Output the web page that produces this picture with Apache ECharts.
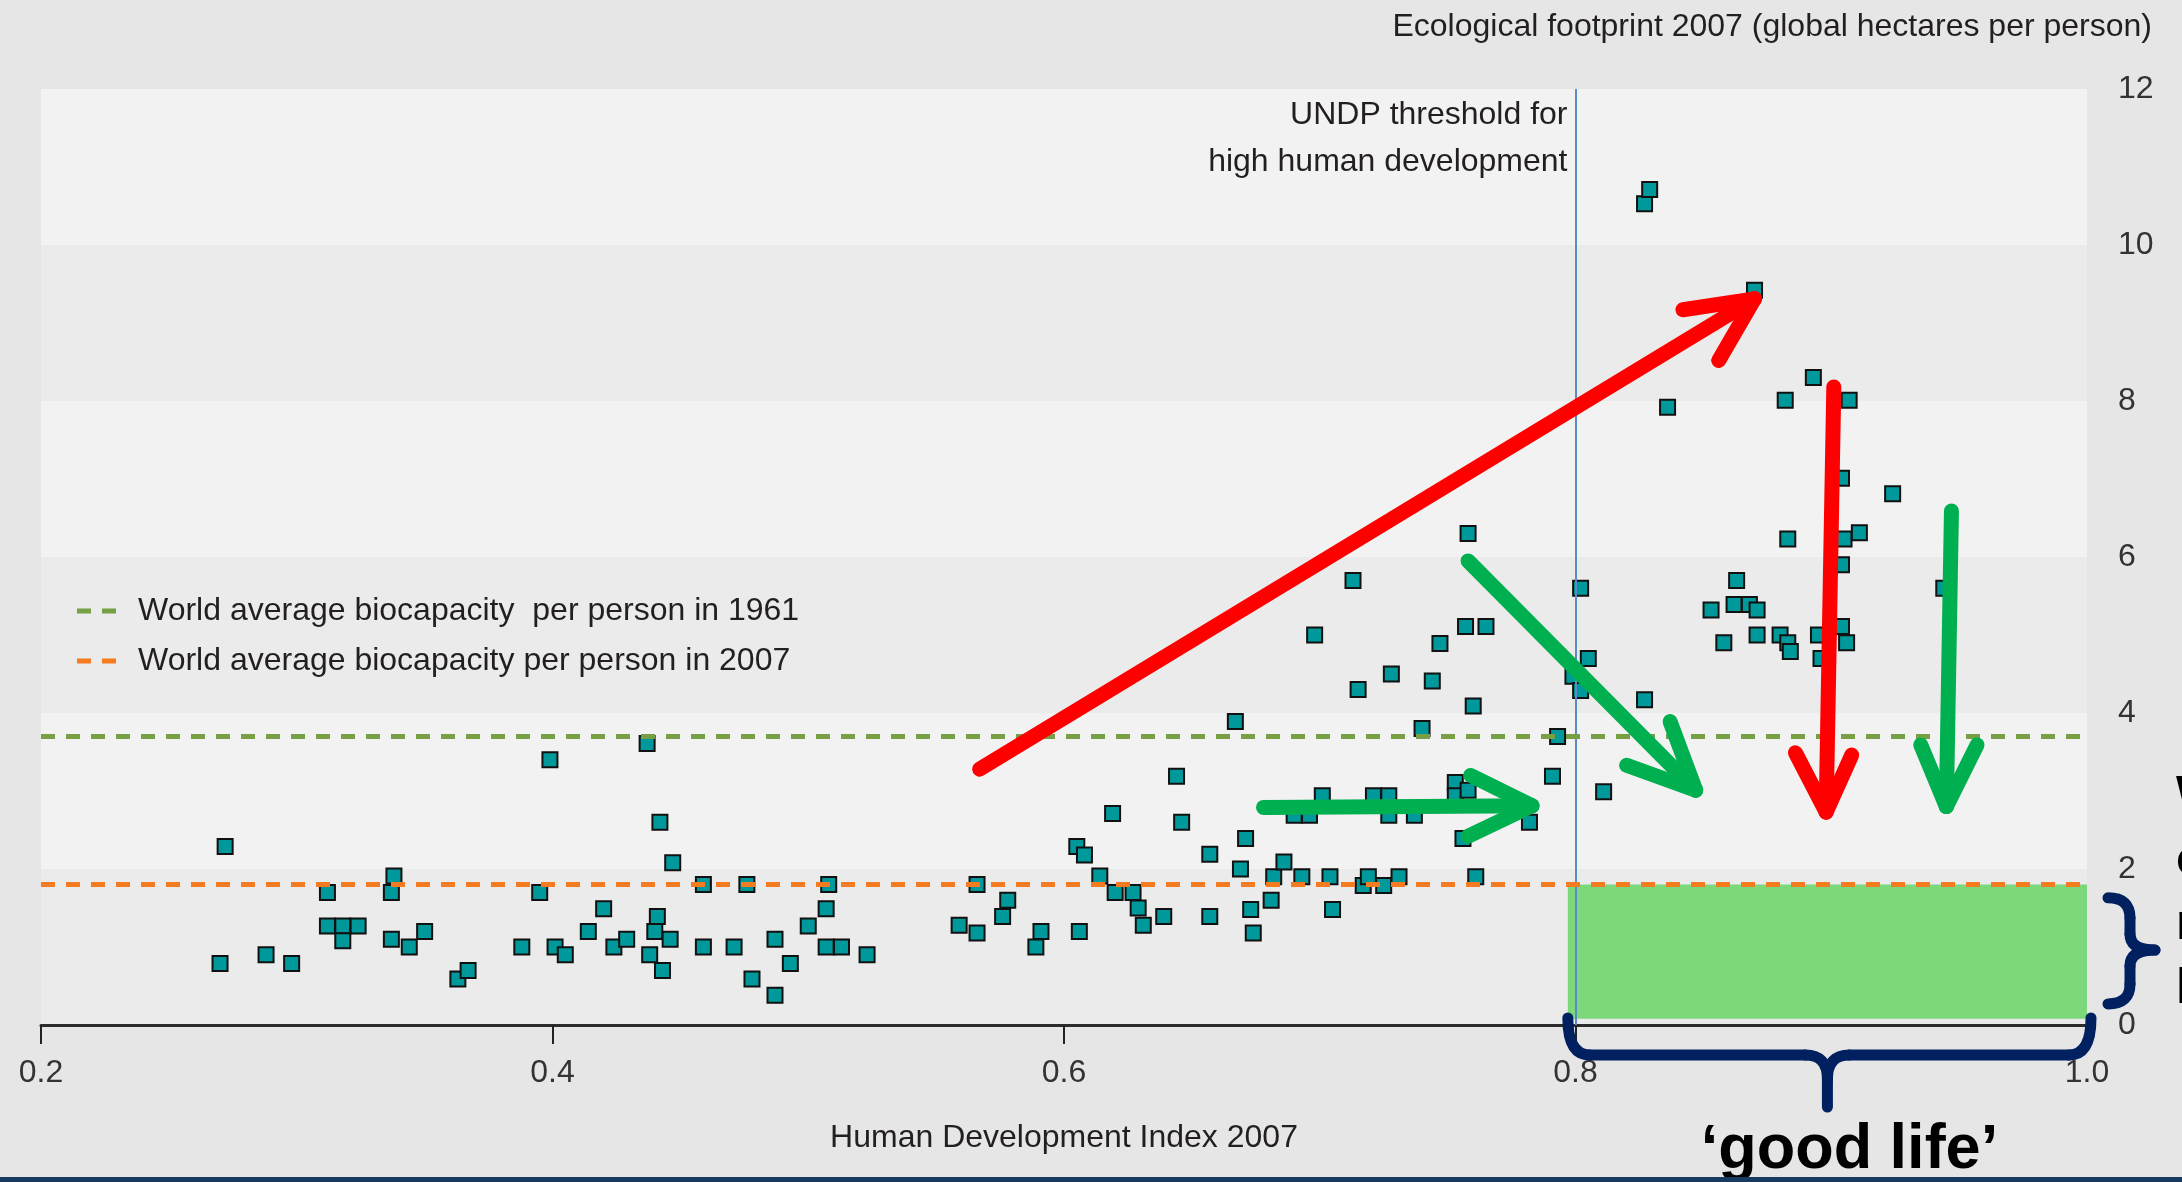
<!DOCTYPE html>
<html>
<head>
<meta charset="utf-8">
<title>HDI vs Ecological footprint 2007</title>
<script src="https://cdn.jsdelivr.net/npm/echarts@6/dist/echarts.min.js"></script>
<style>
  html, body { margin: 0; padding: 0; background: #e6e6e6; }
  #main { width: 2182px; height: 1182px; }
</style>
</head>
<body>
<div id="main"></div>
<script>
const FONT = "'Liberation Sans', Arial, sans-serif";
const TEXT_COLOR = "#231f20";
const NAVY = "#002060";

const xAxisName = "Human Development Index 2007";
const yAxisName = "Ecological footprint 2007 (global hectares per person)";
const legend1961 = "World average biocapacity  per person in 1961";
const legend2007 = "World average biocapacity per person in 2007";
const thresholdText = ["UNDP threshold for", "high human development"];
const goodLifeText = "\u2018good life\u2019";
const sideText = ["Within", "our", "means", "limits"];

const bio1961 = 3.7; // gha per person
const bio2007 = 1.8;
const hdiThreshold = 0.8;
const goodLifeBox = [[0.797, 0.08], [1.0, 1.8]];

// one value per country
const hdi = [
  0.272, 0.270, 0.288, 0.298, 0.312, 0.312, 0.318, 0.324, 0.318, 0.338,
  0.337, 0.337, 0.344, 0.350, 0.363, 0.367, 0.388, 0.395, 0.399, 0.401,
  0.405, 0.414, 0.420, 0.424, 0.429, 0.437, 0.442, 0.447, 0.441, 0.440,
  0.438, 0.446, 0.443, 0.459, 0.459, 0.471, 0.476, 0.478, 0.487, 0.487,
  0.493, 0.500, 0.507, 0.508, 0.507, 0.513, 0.523,
  0.559, 0.566, 0.566, 0.576, 0.578, 0.589, 0.591, 0.605, 0.606, 0.608,
  0.614, 0.619, 0.620, 0.627, 0.629, 0.631, 0.639, 0.644, 0.646, 0.657,
  0.657, 0.667, 0.669, 0.671, 0.673, 0.674, 0.681, 0.682, 0.686, 0.690,
  0.693, 0.696, 0.698, 0.701, 0.704, 0.705, 0.713, 0.715, 0.717, 0.719,
  0.721, 0.725, 0.727, 0.727, 0.728, 0.731, 0.737, 0.740, 0.744, 0.747,
  0.753, 0.753, 0.756, 0.757, 0.758, 0.758, 0.760, 0.761, 0.765, 0.782,
  0.791, 0.793,
  0.799, 0.802, 0.802, 0.805, 0.811, 0.827, 0.827, 0.829, 0.836, 0.853,
  0.858, 0.862, 0.863, 0.868, 0.870, 0.871, 0.871, 0.880, 0.882, 0.883,
  0.883, 0.884, 0.893, 0.895, 0.896, 0.904, 0.904, 0.904, 0.905, 0.906,
  0.907, 0.911, 0.924, 0.944
];
const footprint = [
  2.29, 0.79, 0.90, 0.79, 1.70, 1.27, 1.27, 1.27, 1.08, 1.91,
  1.70, 1.10, 1.00, 1.20, 0.59, 0.70, 1.00, 1.70, 3.40, 1.00,
  0.90, 1.20, 1.49, 1.00, 1.10, 3.61, 2.60, 2.08, 1.39, 1.20,
  0.90, 1.10, 0.70, 1.80, 1.00, 1.00, 1.80, 0.59, 1.10, 0.38,
  0.79, 1.27, 1.49, 1.80, 1.00, 1.00, 0.90,
  1.28, 1.80, 1.18, 1.39, 1.60, 1.00, 1.20, 2.29, 1.20, 2.18,
  1.91, 2.71, 1.70, 1.70, 1.50, 1.28, 1.39, 3.19, 2.60, 2.19,
  1.39, 3.89, 2.00, 2.39, 1.48, 1.18, 1.60, 1.90, 2.09, 2.69,
  1.90, 2.69, 5.00, 2.94, 1.90, 1.48, 5.70, 4.30, 1.79, 1.90,
  2.94, 1.79, 2.94, 2.69, 4.50, 1.90, 2.69, 3.80, 4.41, 4.89,
  3.11, 2.94, 2.39, 5.11, 6.30, 3.01, 4.09, 1.90, 5.11, 2.60,
  3.19, 3.70,
  4.47, 5.60, 4.29, 4.70, 2.99, 10.53, 4.17, 10.71, 7.92, 5.32,
  4.90, 5.39, 5.70, 5.39, 9.42, 5.32, 5.00, 5.00, 8.01, 6.23,
  4.90, 4.79, 8.30, 5.00, 4.70, 7.01, 5.90, 5.11, 6.23, 4.90,
  8.01, 6.31, 6.81, 5.60
];

// hand-drawn arrows on top of the chart, [from, to] in axis units
const redArrows = [
  [[0.567, 3.28], [0.870, 9.31]],
  [[0.870, 9.31], [0.842, 9.17]],
  [[0.870, 9.31], [0.856, 8.52]],
  [[0.901, 8.18], [0.898, 2.73]],
  [[0.898, 2.73], [0.886, 3.49]],
  [[0.898, 2.73], [0.908, 3.46]]
];
const greenArrows = [
  [[0.758, 5.95], [0.847, 3.01]],
  [[0.847, 3.01], [0.820, 3.33]],
  [[0.847, 3.01], [0.837, 3.89]],
  [[0.678, 2.79], [0.783, 2.81]],
  [[0.783, 2.81], [0.759, 3.20]],
  [[0.783, 2.81], [0.758, 2.42]],
  [[0.947, 6.59], [0.945, 2.80]],
  [[0.945, 2.80], [0.935, 3.59]],
  [[0.945, 2.80], [0.957, 3.59]]
];

const points = hdi.map((h, i) => [h, footprint[i]]);

// legend icon: two short dashes
const DASH_ICON = "path://M0,0 H14 V5 H0 Z M25,0 H39 V5 H25 Z";

function arrowSeries(segments, color) {
  return {
    type: "line",
    data: [],
    z: 5,
    silent: true,
    markLine: {
      silent: true,
      symbol: ["none", "none"],
      animation: false,
      label: { show: false },
      emphasis: { disabled: true },
      lineStyle: { color: color, width: 15, type: "solid", cap: "round", opacity: 1 },
      data: segments.map(s => [{ coord: s[0] }, { coord: s[1] }])
    }
  };
}

function biocapSeries(name, value, color) {
  return {
    name: name,
    type: "line",
    data: [],
    symbol: "none",
    z: 2,
    itemStyle: { color: color },
    lineStyle: { color: color, width: 5, type: [14, 11] },
    markLine: {
      silent: true,
      symbol: ["none", "none"],
      animation: false,
      label: { show: false },
      emphasis: { disabled: true },
      lineStyle: { color: color, width: 5, type: [14, 11], opacity: 1 },
      data: [{ yAxis: value }]
    }
  };
}

const chart = echarts.init(document.getElementById("main"));

chart.setOption({
  backgroundColor: "#e6e6e6",
  animation: false,
  title: {
    text: yAxisName,
    right: 25,
    top: 6,
    textStyle: { fontFamily: FONT, fontSize: 32, fontWeight: "normal", color: TEXT_COLOR }
  },
  legend: {
    data: [
      { name: legend1961, icon: DASH_ICON },
      { name: legend2007, icon: DASH_ICON }
    ],
    orient: "vertical",
    left: 72,
    top: 590,
    itemWidth: 39,
    itemHeight: 5,
    itemGap: 18,
    selectedMode: false,
    textStyle: { fontFamily: FONT, fontSize: 32, color: TEXT_COLOR, padding: [0, 0, 0, 17] }
  },
  grid: { left: 41, right: 95, top: 89, bottom: 157 },
  xAxis: {
    type: "value",
    min: 0.2,
    max: 1.0,
    interval: 0.2,
    name: xAxisName,
    nameLocation: "middle",
    nameGap: 97,
    nameTextStyle: { fontFamily: FONT, fontSize: 32, color: TEXT_COLOR },
    axisLine: { lineStyle: { color: "#2b2b2b", width: 3 } },
    axisTick: { show: true, length: 19, lineStyle: { color: "#222", width: 2 } },
    axisLabel: {
      margin: 32,
      fontFamily: FONT,
      fontSize: 32,
      color: "#333",
      formatter: v => v.toFixed(1)
    },
    splitLine: { show: false }
  },
  yAxis: {
    type: "value",
    position: "right",
    min: 0,
    max: 12,
    interval: 2,
    axisLine: { show: false },
    axisTick: { show: false },
    axisLabel: { margin: 31, fontFamily: FONT, fontSize: 32, color: "#333" },
    splitLine: { show: false },
    splitArea: { show: true, areaStyle: { color: ["#ebebeb", "#f2f2f2"] } }
  },
  series: [
    {
      // the 'good life' corner
      type: "line",
      data: [],
      z: 1,
      silent: true,
      markArea: {
        silent: true,
        itemStyle: { color: "#7bd87b", opacity: 1 },
        data: [[
          { xAxis: goodLifeBox[0][0], yAxis: goodLifeBox[0][1] },
          { xAxis: goodLifeBox[1][0], yAxis: goodLifeBox[1][1] }
        ]]
      }
    },
    {
      type: "line",
      data: [],
      z: 2,
      silent: true,
      markLine: {
        silent: true,
        symbol: ["none", "none"],
        animation: false,
        label: { show: false },
        emphasis: { disabled: true },
        lineStyle: { color: "#5b8bc5", width: 2, type: "solid", opacity: 1 },
        data: [{ xAxis: hdiThreshold }]
      }
    },
    biocapSeries(legend1961, bio1961, "#77a045"),
    biocapSeries(legend2007, bio2007, "#f47b20"),
    {
      type: "scatter",
      data: points,
      z: 3,
      symbol: "rect",
      symbolSize: 15,
      itemStyle: { color: "#00999b", borderColor: "#111", borderWidth: 2, opacity: 1 }
    },
    arrowSeries(redArrows, "#ff0000"),
    arrowSeries(greenArrows, "#00b050")
  ]
});

// annotations placed from the axis scales
const px = (x, y) => chart.convertToPixel({ gridIndex: 0 }, [x, y]);
const [xT, yTop] = px(hdiThreshold, 12);
const [xEnd, y0] = px(1.0, 0);
const xs = px(goodLifeBox[0][0], 0)[0];
const xm = (xs + xEnd) / 2;

const braceStyle = { fill: null, stroke: NAVY, lineWidth: 11, lineCap: "round", lineJoin: "round" };
const curve = (x1, y1, cx, cy, x2, y2) => ({
  type: "bezierCurve", silent: true, z: 10,
  shape: { x1: x1, y1: y1, cpx1: cx, cpy1: cy, x2: x2, y2: y2 },
  style: braceStyle
});
const seg = (x1, y1, x2, y2) => ({
  type: "line", silent: true, z: 10,
  shape: { x1: x1, y1: y1, x2: x2, y2: y2 },
  style: braceStyle
});

// brace under the x axis, from the threshold to 1.0
const bTop = y0 - 7, bBar = y0 + 30, bTip = y0 + 82, xe = xEnd + 4;
const braceH = [
  curve(xs, bTop, xs, bBar, xs + 22, bBar),
  seg(xs + 22, bBar, xm - 22, bBar),
  curve(xm - 22, bBar, xm, bBar, xm, bBar + 24),
  seg(xm, bBar + 24, xm, bTip),
  curve(xm, bBar + 24, xm, bBar, xm + 22, bBar),
  seg(xm + 22, bBar, xe - 22, bBar),
  curve(xe - 22, bBar, xe, bBar, xe, bTop)
];

// brace on the right, over the green box height
const vEnd = xEnd + 21, vBar = xEnd + 43, vTip = xEnd + 68;
const vt = px(1.0, 1.63)[1], vb = px(1.0, 0.27)[1], vm = px(1.0, 0.96)[1];
const braceV = [
  curve(vEnd, vt, vBar, vt, vBar, vt + 20),
  seg(vBar, vt + 20, vBar, vm - 16),
  curve(vBar, vm - 16, vBar, vm, vTip, vm),
  curve(vTip, vm, vBar, vm, vBar, vm + 16),
  seg(vBar, vm + 16, vBar, vb - 20),
  curve(vBar, vb - 20, vBar, vb, vEnd, vb)
];

chart.setOption({
  graphic: [
    {
      type: "text",
      x: xT - 8,
      y: yTop + 3,
      silent: true,
      style: {
        text: thresholdText.join("\n"),
        align: "right",
        verticalAlign: "top",
        lineHeight: 47,
        fontFamily: FONT,
        fontSize: 32,
        fill: TEXT_COLOR
      }
    },
    ...braceH,
    ...braceV,
    {
      type: "text",
      x: xm + 22,
      y: 1151,
      silent: true,
      style: {
        text: goodLifeText,
        align: "center",
        verticalAlign: "middle",
        fontFamily: FONT,
        fontWeight: "bold",
        fontSize: 63,
        fill: "#000"
      }
    },
    {
      type: "text",
      x: 2176,
      y: 765,
      silent: true,
      style: {
        text: sideText.join("\n"),
        align: "left",
        verticalAlign: "top",
        lineHeight: 64,
        fontFamily: FONT,
        fontWeight: "bold",
        fontSize: 50,
        fill: "#000"
      }
    },
    {
      type: "rect",
      silent: true,
      z: 20,
      shape: { x: 0, y: 1177, width: 2182, height: 5 },
      style: { fill: "#163a60" }
    }
  ]
});
</script>
</body>
</html>
